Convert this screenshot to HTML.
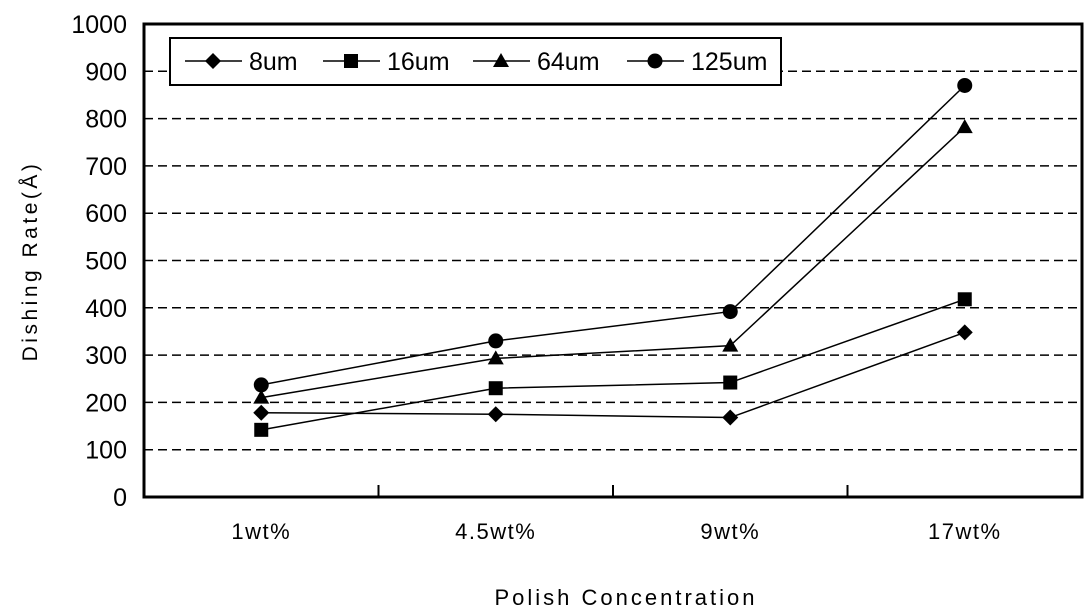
<!DOCTYPE html>
<html><head><meta charset="utf-8"><style>
body{margin:0;background:#fff;}
svg{display:block;font-family:"Liberation Sans",sans-serif;}
</style></head><body>
<svg id="chart" width="1091" height="605" viewBox="0 0 1091 605" xmlns="http://www.w3.org/2000/svg">
<rect x="0" y="0" width="1091" height="605" fill="#fff"/>
<g id="grid"></g>
<g id="yticks"></g>
<g id="xticks"></g>
<rect x="144" y="24" width="938" height="473" fill="none" stroke="#000" stroke-width="3"/>
<g id="series"></g>
<text transform="translate(37,261) rotate(-90)" text-anchor="middle" font-size="21" letter-spacing="3.5">Dishing Rate(Å)</text>
<text x="626" y="605" text-anchor="middle" font-size="22" letter-spacing="3">Polish Concentration</text>
<g>
<rect x="170" y="38" width="611" height="47" fill="#fff" stroke="#000" stroke-width="2"/>
<g id="legend"></g>
</g>
</svg>
<script>
const categories=["1wt%","4.5wt%","9wt%","17wt%"];
const seriesNames=["8um","16um","64um","125um"];
const s8=[178,175,168,348];
const s16=[142,230,242,418];
const s64=[210,293,320,782];
const s125=[237,330,392,870];
const yTicks=[0,100,200,300,400,500,600,700,800,900,1000];
const NS="http://www.w3.org/2000/svg";
const L=144,R=1082,T=24,B=497;
const y=v=>B-(v/1000)*(B-T);
const bw=(R-L)/categories.length;
const x=i=>L+bw*(i+0.5);
function mk(tag,attrs,parent){const e=document.createElementNS(NS,tag);for(const k in attrs)e.setAttribute(k,attrs[k]);parent.appendChild(e);return e;}
const grid=document.getElementById('grid'),yt=document.getElementById('yticks'),xt=document.getElementById('xticks');
yTicks.forEach(v=>{
  if(v>0&&v<1000){const g=mk('line',{x1:L,x2:R,y1:y(v),y2:y(v),stroke:'#000','stroke-width':1.5,'stroke-dasharray':'9 5'},grid);
  
  }
  const t=mk('text',{x:127,y:y(v)+9,'text-anchor':'end','font-size':25},yt);
  
  
  t.textContent=v;
});
categories.forEach((c,i)=>{
  if(i>0){const tk=mk('line',{x1:L+bw*i,x2:L+bw*i,y1:B,y2:B-12,stroke:'#000','stroke-width':2},xt);
  
  }
  const t=mk('text',{x:x(i),y:539,'text-anchor':'middle','font-size':22,'letter-spacing':1.5},xt);
  
  
  t.textContent=c;
});
function marker(type,cx,cy,parent){
  let e;
  if(type===0)e=mk('polygon',{points:`${cx},${cy-8} ${cx+8},${cy} ${cx},${cy+8} ${cx-8},${cy}`},parent);
  else if(type===1)e=mk('rect',{x:cx-7,y:cy-7,width:14,height:14},parent);
  else if(type===2)e=mk('polygon',{points:`${cx},${cy-8} ${cx+8},${cy+6} ${cx-8},${cy+6}`},parent);
  else e=mk('circle',{cx:cx,cy:cy,r:7.5},parent);
  e.setAttribute('fill','#000');
  return e;
}
const sg=document.getElementById('series');
[s8,s16,s64,s125].forEach((d,si)=>{
  const g=mk('g',{},sg);
  
  
  const p=mk('polyline',{points:d.map((v,i)=>x(i)+','+y(v)).join(' '),fill:'none',stroke:'#000','stroke-width':1.5},g);
  
  
  d.forEach((v,i)=>{const m=marker(si,x(i),y(v),g);
    
    });
});
const lg=document.getElementById('legend');
const lx=[185,323,473,627];
seriesNames.forEach((n,i)=>{
  const g=mk('g',{},lg);
  
  
  mk('line',{x1:lx[i],x2:lx[i]+57,y1:61,y2:61,stroke:'#000','stroke-width':1.5},g);
  marker(i,lx[i]+28,61,g);
  const t=mk('text',{x:lx[i]+64,y:70,'font-size':25},g);
  t.textContent=n;
});
</script>
</body></html>
